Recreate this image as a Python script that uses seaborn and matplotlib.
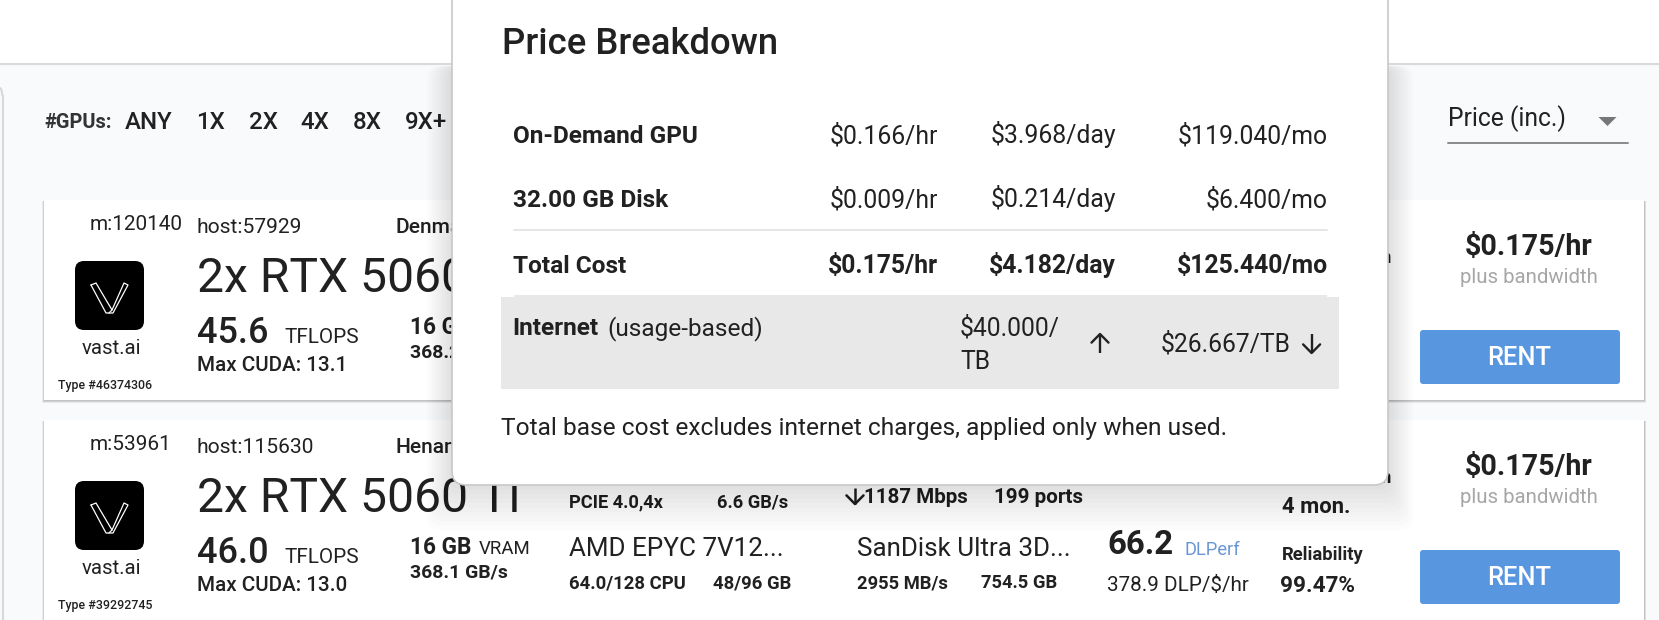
import matplotlib
matplotlib.use("Agg")
import matplotlib.pyplot as plt
import seaborn as sns
from matplotlib.patches import FancyBboxPatch, Rectangle

# values
gpu_filters = ["ANY", "1X", "2X", "4X", "8X", "9X+"]
gpu_filter_x = [125, 196.5, 248.5, 300.5, 352.5, 405]

machine_ids = ["m:120140", "m:53961"]
host_ids = ["host:57929", "host:115630"]
locations = ["Denmark", "Henan"]
tflops = ["45.6", "46.0"]
max_cuda = ["Max CUDA: 13.1", "Max CUDA: 13.0"]
vram_speed = ["368.2 GB/s", "368.1 GB/s"]
type_ids = ["Type #46374306", "Type #39292745"]
card_tops = [200, 420]

price_rows = ["On-Demand GPU", "32.00 GB Disk", "Total Cost"]
price_hr = ["$0.166/hr", "$0.009/hr", "$0.175/hr"]
price_day = ["$3.968/day", "$0.214/day", "$4.182/day"]
price_mo = ["$119.040/mo", "$6.400/mo", "$125.440/mo"]
row_baselines = [143.2, 207.4, 273.2]

TEXT = "#212121"
BLUE = "#5896e0"

sns.set_theme(style="white")
plt.rcParams["font.family"] = ["Roboto", "DejaVu Sans"]

fig = plt.figure(figsize=(16.59, 6.2), dpi=100, facecolor="white")
ax = fig.add_axes([0, 0, 1, 1])
ax.set_axis_off()


def txt(x, y, s, px, weight="normal", color=TEXT, ha="left", z=3):
    ax.text(x, y, s, fontsize=px * 0.72, fontweight=weight, color=color, ha=ha, va="baseline", zorder=z)


def box(x0, y0, x1, y1, color, r=0.0, z=1, alpha=1.0, edge="none", lw=0):
    ax.add_patch(FancyBboxPatch((x0 + r, y0 + r), x1 - x0 - 2 * r, y1 - y0 - 2 * r,
                                boxstyle=f"round,pad={r},rounding_size={r}" if r else "square,pad=0",
                                fc=color, ec=edge, lw=lw, alpha=alpha, zorder=z))


def hline(x0, x1, y, color, lw, z=3):
    line = sns.lineplot(x=[x0, x1], y=[y, y], color=color, linewidth=lw, ax=ax, estimator=None, sort=False)
    line.lines[-1].set_zorder(z)


def arrow(x, top, bottom, up, z=8, lw=1.7):
    tip = top if up else bottom
    d = 7.5 if up else -7.5
    ax.plot([x, x], [top, bottom], color=TEXT, lw=lw, zorder=z, solid_capstyle="butt")
    ax.plot([x - 8.5, x, x + 8.5], [tip + d * 1.15, tip, tip + d * 1.15], color=TEXT, lw=lw, zorder=z)


# page
ax.add_patch(Rectangle((0, 64), 1659, 556, fc="#f9fafc", ec="none", zorder=0))
hline(0, 1659, 64, "#d9d9d9", 1.5, z=1)
ax.plot([2.5, 2.5], [96, 620], color="#d8d8d8", lw=1.5, zorder=1)
ax.plot([0, 1.5, 2.5], [88, 90, 96], color="#d8d8d8", lw=1.5, zorder=1)

# toolbar
txt(44, 128, "#GPUs:", 20, "bold", "#333333")
for x, label in zip(gpu_filter_x, gpu_filters):
    txt(x, 129, label, 24, "medium")
txt(1448, 126, "Price (inc.)", 24.6)
sns.scatterplot(x=[1607], y=[120.5], marker=[(-1, 0.5), (1, 0.5), (0, -0.5)], s=169, color="#777777",
                linewidth=0, ax=ax, zorder=3)
hline(1448, 1628, 142.7, "#8a8a8a", 1.4)

# cards
for i, top in enumerate(card_tops):
    for k in range(1, 5):
        box(44 - k / 2, top + 1, 1644 + k / 2, min(top + 200 + k * 0.8, 640), "#000000", z=1, alpha=0.06)
    box(44, top, 1644, top + 200, "white", z=1.5)
    txt(90, top + 30, machine_ids[i], 20.8)
    txt(197, top + 33, host_ids[i], 21)
    txt(395.5, top + 33, locations[i], 21, "medium")
    # logo
    box(75, top + 61, 144, top + 130, "black", r=9, z=2)
    ox, oy = 75, top + 61
    ax.plot([ox + 16, ox + 21, ox + 37, ox + 34, ox + 31, ox + 16],
            [oy + 24, oy + 22, oy + 49, oy + 52, oy + 52, oy + 24], color="white", lw=0.9, zorder=3)
    ax.plot([ox + 37, ox + 49, ox + 53, ox + 38, ox + 34],
            [oy + 49, oy + 22, oy + 24, oy + 52, oy + 52], color="white", lw=0.9, zorder=3)
    txt(111, top + 154, "vast.ai", 20.4, ha="center")
    txt(58, top + 189, type_ids[i], 12.4, "medium")

    txt(197, top + 92, "2x RTX 5060 Ti", 48)
    txt(197, top + 143, tflops[i], 36, "medium")
    txt(284, top + 143, "TFLOPS", 20.6)
    txt(197, top + 171, max_cuda[i], 20.6, "medium")
    txt(410, top + 134, "16 GB", 22.6, "bold")
    txt(410, top + 157.5, vram_speed[i], 19.4, "bold")

    txt(1391, top + 63, "n", 18.4, "bold", ha="right")
    txt(1529, top + 55, "$0.175/hr", 28.6, "bold", ha="center")
    txt(1529, top + 83, "plus bandwidth", 20.4, color="#a6a6a6", ha="center")
    box(1420, top + 130, 1620, top + 184, BLUE, r=3, z=2)
    txt(1519.5, top + 165, "RENT", 25.5, "medium", color="white", ha="center")

# second card details
txt(479, 554, "VRAM", 18.6)
txt(569, 507.7, "PCIE 4.0,4x", 18.3, "bold")
txt(717, 507.7, "6.6 GB/s", 18.3, "bold")
arrow(855, 488, 504, False, z=3, lw=1.8)
txt(864, 503, "1187 Mbps", 20.5, "bold")
txt(994, 503, "199 ports", 20.7, "bold")
txt(1282, 512.7, "4 mon.", 22, "bold")
txt(569, 556, "AMD EPYC 7V12...", 26)
txt(857, 556, "SanDisk Ultra 3D...", 26)
txt(569, 588, "64.0/128 CPU", 18.5, "bold")
txt(713, 588, "48/96 GB", 18.5, "bold")
txt(857, 588, "2955 MB/s", 18.4, "bold")
txt(981, 588, "754.5 GB", 18.4, "bold")
txt(1107, 554, "66.2", 33, "bold")
txt(1184, 555, "DLPerf", 18.4, color="#6a96d6")
txt(1107, 590.7, "378.9 DLP/$/hr", 20.6)
txt(1282, 560, "Reliability", 18.4, "bold")
txt(1280, 592, "99.47%", 22.5, "bold")

# popover shadow, then popover
for k in range(1, 11):
    box(452 - k * 2.5, 66, 1388 + k * 2.5, 485 + k * 4.5, "#000000", r=12, z=4, alpha=0.012)
box(452, -30, 1388, 485, "white", r=14, z=5, edge="#c8c8c8", lw=1.2)

txt(502, 54.5, "Price Breakdown", 36.5, "medium", z=6)
for i, name in enumerate(price_rows):
    bold = name == "Total Cost"
    y = row_baselines[i]
    txt(513, y, name, 24.4, "bold", z=6)
    w = "bold" if bold else "normal"
    txt(938, y, price_hr[i], 24.8, w, ha="right", z=6)
    txt(1116, y, price_day[i], 24.8, w, ha="right", z=6)
    txt(1328, y, price_mo[i], 24.8, w, ha="right", z=6)
hline(514, 1327, 230, "#e6e6e6", 1.4, z=6)

ax.add_patch(Rectangle((514, 295), 813, 3, fc="#e8e8e8", ec="none", zorder=6))
ax.add_patch(Rectangle((501, 297.3), 838, 91.4, fc="#e8e8e8", ec="none", zorder=6))
txt(512, 335, "Internet", 24.4, "bold", z=7)
txt(607, 335, "(usage-based)", 24.4, z=7)
txt(960, 335, "$40.000/", 24.6, z=7)
txt(960, 369, "TB", 24.6, z=7)
arrow(1100, 334, 353, True)
txt(1161, 352, "$26.667/TB", 24.6, z=7)
arrow(1311.6, 334, 353, False)
txt(501, 434.5, "Total base cost excludes internet charges, applied only when used.", 24.5, z=6)

ax.set_xlim(0, 1659)
ax.set_ylim(620, 0)
fig.savefig("out.png", dpi=100)
